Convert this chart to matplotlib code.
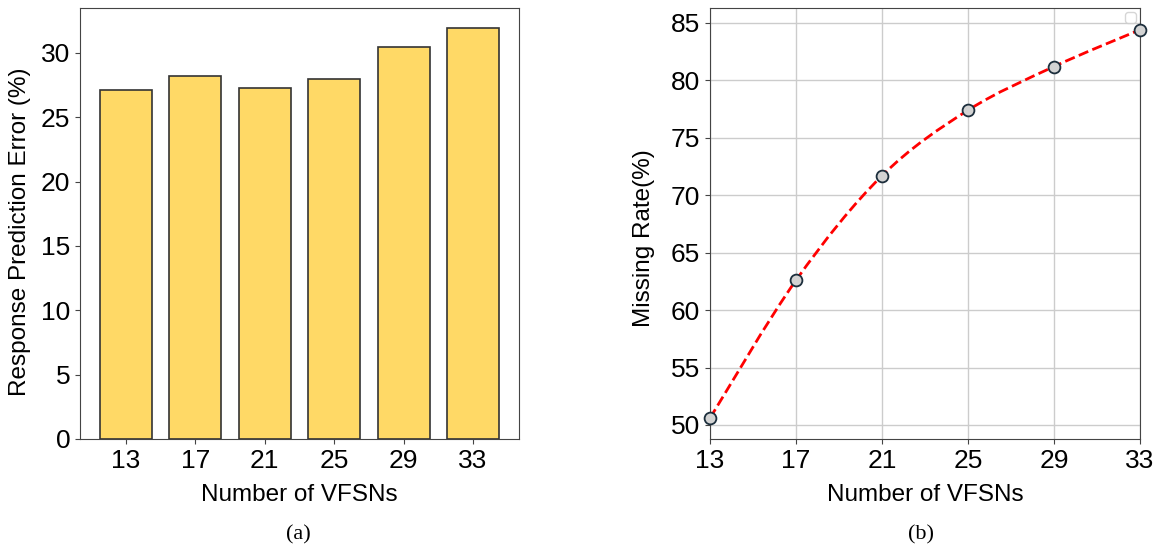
import numpy as np
import matplotlib
matplotlib.use("Agg")
import matplotlib.pyplot as plt
from matplotlib.path import Path
from matplotlib.patches import PathPatch

# Data
vfsn_counts = [13, 17, 21, 25, 29, 33]
tick_labels = ["13", "17", "21", "25", "29", "33"]
prediction_error = [27.1, 28.2, 27.3, 28.0, 30.5, 31.9]
missing_rate = [50.6, 62.6, 71.7, 77.4, 81.2, 84.4]

plt.rcParams["font.family"] = "Liberation Sans"

LABEL_SIZE = 17.5
TICK_SIZE = 19

fig = plt.figure(figsize=(11.64, 5.49), dpi=100)

# (a) bar chart of response prediction error
ax1 = fig.add_axes([0.0687, 0.2004, 0.3771, 0.7851])
pos = np.arange(len(vfsn_counts))
ax1.bar(pos, prediction_error, width=0.75, color="#FFD966",
        edgecolor="#333333", linewidth=1.2)
ax1.set_xticks(pos)
ax1.set_xticklabels(tick_labels)
ax1.set_yticks([0, 5, 10, 15, 20, 25, 30])
ax1.set_xlabel("Number of VFSNs", fontsize=LABEL_SIZE, labelpad=8)
ax1.set_ylabel("Response Prediction Error (%)", fontsize=LABEL_SIZE)
ax1.yaxis.set_label_coords(-0.112, 0.48)
ax1.tick_params(labelsize=TICK_SIZE, color="#444444")
for sp in ax1.spines.values():
    sp.set_color("#444444")

# (b) missing rate curve
ax2 = fig.add_axes([0.6100, 0.2004, 0.3694, 0.7851])
x = np.asarray(vfsn_counts, dtype=float)
y = np.asarray(missing_rate, dtype=float)

# smooth dashed curve through the points (Catmull-Rom as cubic Bezier)
verts = [(x[0], y[0])]
codes = [Path.MOVETO]
n = len(x)
for i in range(n - 1):
    p0 = np.array([x[max(i - 1, 0)], y[max(i - 1, 0)]])
    p1 = np.array([x[i], y[i]])
    p2 = np.array([x[i + 1], y[i + 1]])
    p3 = np.array([x[min(i + 2, n - 1)], y[min(i + 2, n - 1)]])
    c1 = p1 + (p2 - p0) / 6.0
    c2 = p2 - (p3 - p1) / 6.0
    verts += [tuple(c1), tuple(c2), tuple(p2)]
    codes += [Path.CURVE4] * 3
curve = PathPatch(Path(verts, codes), facecolor="none", edgecolor="red",
                  linewidth=2, linestyle="--", zorder=3)
ax2.add_patch(curve)
ax2.plot(x, y, linestyle="none", marker="o", markersize=8.5,
         markerfacecolor="#d3d3d3", markeredgecolor="#1c2e3c",
         markeredgewidth=1.3, zorder=4, clip_on=False)
ax2.set_xlim(13, 33)
ax2.set_ylim(48.78, 86.3)
ax2.set_xticks(vfsn_counts)
ax2.set_xticklabels(tick_labels)
ax2.set_yticks([50, 55, 60, 65, 70, 75, 80, 85])
ax2.grid(True, color="#cccccc", linewidth=1)
ax2.set_axisbelow(True)
ax2.set_xlabel("Number of VFSNs", fontsize=LABEL_SIZE, labelpad=8)
ax2.set_ylabel("Missing Rate(%)", fontsize=LABEL_SIZE)
ax2.yaxis.set_label_coords(-0.128, 0.465)
ax2.tick_params(labelsize=TICK_SIZE, color="#444444")
for sp in ax2.spines.values():
    sp.set_color("#444444")
ax2.legend(handles=[], loc="upper right", borderaxespad=0.3)

# panel captions
fig.text(298 / 1164, 1 - 535 / 549, "(a)", ha="center", va="center",
         fontsize=16, family="Liberation Serif")
fig.text(921 / 1164, 1 - 535 / 549, "(b)", ha="center", va="center",
         fontsize=16, family="Liberation Serif")

fig.savefig("out.png", dpi=100, facecolor="white")
